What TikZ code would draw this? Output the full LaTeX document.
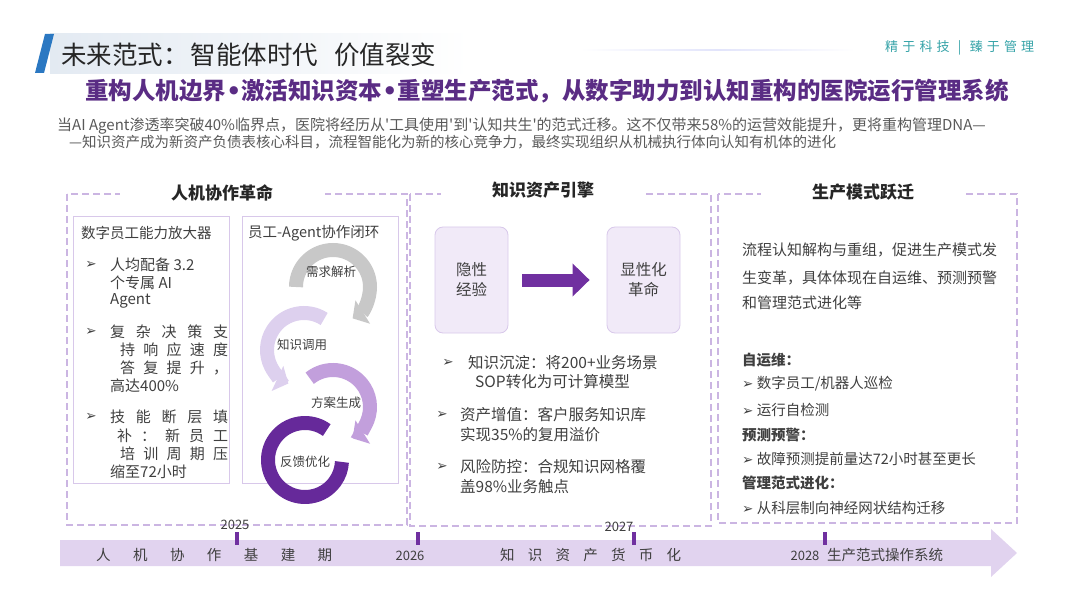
\documentclass[tikz,border=0pt]{standalone}
\usepackage{fontspec}
\setmainfont{Noto Sans CJK SC}[Ligatures=TeXOff]
\newfontfamily\symfont{DejaVu Sans}
\usetikzlibrary{arrows.meta}

\definecolor{headblue}{HTML}{2B78C2}
\definecolor{headbg}{HTML}{E3EAF2}
\definecolor{titlegray}{HTML}{262626}
\definecolor{subpurple}{HTML}{5A2C84}
\definecolor{motto}{HTML}{36A3A8}
\definecolor{introgray}{HTML}{595959}
\definecolor{txtgray}{HTML}{3F3F3F}
\definecolor{dashpurple}{HTML}{CBB5E2}
\definecolor{boxline}{HTML}{D8C8EA}
\definecolor{boxfill}{HTML}{F1EAF8}
\definecolor{deeppurple}{HTML}{7030A0}
\definecolor{bandpurple}{HTML}{E1D3EF}
\definecolor{ringgray}{HTML}{C8C8C8}
\definecolor{ringlight}{HTML}{DDD0EE}
\definecolor{ringmid}{HTML}{C29FDC}
\definecolor{ringdark}{HTML}{66299A}

\newcommand{\bul}{{\symfont\bfseries\fontsize{13.5}{13.5}\selectfont ➢}}
\newcommand{\dotsep}{{\symfont\bfseries •}}
\newcommand{\fsz}[1]{\fontsize{#1}{#1}\selectfont}

\begin{document}
\begin{tikzpicture}[x=1pt, y=1pt,
    txt/.style={anchor=west, inner sep=0pt, text=txtgray, font=\fsz{15}},
    bulnode/.style={inner sep=0pt, text=txtgray},
    panel/.style={draw=dashpurple, line width=1.1pt, dash pattern=on 7pt off 4pt},
    paneltitle/.style={fill=white, minimum width=205pt, inner ysep=3pt, text=titlegray, font=\fsz{17}\bfseries},
    innerbox/.style={draw=boxline, line width=0.8pt},
    kbox/.style={draw=boxline, fill=boxfill, line width=0.8pt, rounded corners=8pt, minimum width=73pt, minimum height=106pt, align=center, text=txtgray, font=\fontsize{15.5}{20}\selectfont},
    ring/.style={line width=14pt},
    ringtip/.style={-{Triangle[length=12pt,width=27pt]}},
    ringlabel/.style={inner sep=0pt, text=txtgray, font=\fsz{12.5}},
    fatarrow/.style={draw=deeppurple, line width=13pt, -{Triangle[length=17pt,width=32pt]}},
    year/.style={inner sep=0pt, text=txtgray, font=\fsz{13}},
    tick/.style={fill=deeppurple}]
    \useasboundingbox (0,0) rectangle (1080,-607);

    % --- header ---
    \shade[left color=headbg, right color=white] (50,-34) rectangle (470,-74);
    \fill[headblue] (45,-34) -- (54,-34) -- (44,-73) -- (35,-73) -- cycle;
    \node[anchor=west, inner sep=0pt, text=titlegray, font=\fsz{25.5}] (title) at (61,-55) {未来范式：\hspace{2pt}智能体时代\hspace{16pt}价值裂变};
    \shade[left color=white, right color=white, middle color=headbg!80!blue!40] (580,-49.5) rectangle (855,-51);
    \node[anchor=west, inner sep=0pt, text=motto, font=\fsz{13}] (motto) at (885,-48) {\makebox[149pt][s]{精 于 科 技 \ | \ 臻 于 管 理}};
    \node[inner sep=0pt, text=subpurple, font=\fsz{23.5}\bfseries] (sub) at (547,-91) {重构人机边界\dotsep 激活知识资本\dotsep 重塑生产范式，从数字助力到认知重构的医院运行管理系统};
    \node[anchor=west, inner sep=0pt, text=introgray, font=\fsz{15}] (intro1) at (57,-126) {当AI Agent渗透率突破40\%临界点，医院将经历从'工具使用'到'认知共生'的范式迁移。这不仅带来58\%的运营效能提升，更将重构管理DNA—};
    \node[anchor=west, inner sep=0pt, text=introgray, font=\fsz{14.5}] (intro2) at (69,-142) {—知识资产成为新资产负债表核心科目，流程智能化为新的核心竞争力，最终实现组织从机械执行体向认知有机体的进化};

    % --- panel 1: human-machine ---
    \draw[panel] (67,-194) rectangle (407,-525);
    \node[paneltitle] (p1title) at (222,-193) {人机协作革命};
    \draw[innerbox] (73,-216) rectangle (229,-483);
    \draw[innerbox] (242,-216) rectangle (398,-483);
    \node[txt, font=\fsz{14.5}] (amp) at (81,-233) {数字员工能力放大器};
    \node[bulnode] (b11) at (91,-265) {\bul};
    \node[txt] (l11) at (110,-265) {人均配备 3.2};
    \node[txt] (l12) at (110,-283) {个专属 AI};
    \node[txt] (l13) at (110,-301) {Agent};
    \node[bulnode] (b21) at (91,-332) {\bul};
    \node[txt] (l21) at (110,-332) {\makebox[118pt][s]{复 杂 决 策 支}};
    \node[txt] (l22) at (120,-350) {\makebox[108pt][s]{持 响 应 速 度}};
    \node[txt] (l23) at (120,-368) {\makebox[108pt][s]{答 复 提 升 ，}};
    \node[txt] (l24) at (110,-386) {高达400\%};
    \node[bulnode] (b31) at (91,-417) {\bul};
    \node[txt] (l31) at (110,-417) {\makebox[118pt][s]{技 能 断 层 填}};
    \node[txt] (l32) at (117,-436) {\makebox[111pt][s]{补 ： 新 员 工}};
    \node[txt] (l33) at (120,-454) {\makebox[108pt][s]{培 训 周 期 压}};
    \node[txt] (l34) at (110,-472) {缩至72小时};
    \node[txt, font=\fsz{14.5}] (loop) at (248,-233) {员工-Agent协作闭环};
    % cycle of four rings
    \coordinate (c1) at (333,-287);
    \coordinate (c2) at (304,-350);
    \coordinate (c3) at (333,-407);
    \coordinate (c4) at (305,-460);
    \draw[ring, ringdark] ([shift={(54:37)}]c4) arc[start angle=54, end angle=357, radius=37];
    \draw[ring, ringmid, ringtip] ([shift={(129:37)}]c3) arc[start angle=129, end angle=-58, radius=37];
    \draw[ring, ringlight, ringtip] ([shift={(57:37)}]c2) arc[start angle=57, end angle=245, radius=37];
    \draw[ring, ringgray, ringtip] ([shift={(180:37)}]c1) arc[start angle=180, end angle=-58, radius=37];
    \node[ringlabel] (n1) at (331,-272) {需求解析};
    \node[ringlabel] (n2) at (302,-345) {知识调用};
    \node[ringlabel] (n3) at (336,-403) {方案生成};
    \node[ringlabel] (n4) at (305,-462) {反馈优化};

    % --- panel 2: knowledge engine ---
    \draw[panel] (410,-194) rectangle (711,-526);
    \node[paneltitle] (p2title) at (543,-190) {知识资产引擎};
    \node[kbox] (tacit) at (471.5,-280) {隐性\\经验};
    \node[kbox] (expl) at (643.5,-280) {显性化\\革命};
    \draw[fatarrow] ([xshift=14pt]tacit.east) -- ([xshift=-17pt]expl.west);
    \node[bulnode] (k1) at (448,-363) {\bul};
    \node[txt, font=\fsz{15.5}] (k11) at (468,-363) {知识沉淀：将200+业务场景};
    \node[txt, font=\fsz{15.5}] (k12) at (475,-382) {SOP转化为可计算模型};
    \node[bulnode] (k2) at (442,-415) {\bul};
    \node[txt, font=\fsz{15.5}] (k21) at (460,-415) {资产增值：客户服务知识库};
    \node[txt, font=\fsz{15.5}] (k22) at (460,-435) {实现35\%的复用溢价};
    \node[bulnode] (k3) at (442,-467) {\bul};
    \node[txt, font=\fsz{15.5}] (k31) at (460,-467) {风险防控：合规知识网格覆};
    \node[txt, font=\fsz{15.5}] (k32) at (460,-487) {盖98\%业务触点};

    % --- panel 3: production mode ---
    \draw[panel] (718,-194) rectangle (1017,-523);
    \node[paneltitle] (p3title) at (863,-192) {生产模式跃迁};
    \node[txt] (m1) at (742,-250) {流程认知解构与重组，促进生产模式发};
    \node[txt] (m2) at (742,-278) {生变革，具体体现在自运维、预测预警};
    \node[txt] (m3) at (742,-303) {和管理范式进化等};
    \node[txt, font=\fsz{14.5}\bfseries] (h1) at (742,-360) {自运维：};
    \node[txt, font=\fsz{14.5}] (i1) at (742,-384) {\bul\ 数字员工/机器人巡检};
    \node[txt, font=\fsz{14.5}] (i2) at (742,-410) {\bul\ 运行自检测};
    \node[txt, font=\fsz{14.5}\bfseries] (h2) at (742,-435) {预测预警：};
    \node[txt, font=\fsz{14.5}] (i3) at (742,-459) {\bul\ 故障预测提前量达72小时甚至更长};
    \node[txt, font=\fsz{14.5}\bfseries] (h3) at (742,-483) {管理范式进化：};
    \node[txt, font=\fsz{14.5}] (i4) at (742,-508) {\bul\ 从科层制向神经网状结构迁移};

    % --- timeline ---
    \fill[bandpurple] (60,-540) -- (991,-540) -- (991,-529) -- (1017,-553) -- (991,-577) -- (991,-566) -- (60,-566) -- cycle;
    \foreach \x in {235,416,632,823} {
        \fill[tick] (\x,-532) rectangle ++(4,-13);
    }
    \node[year] (y25) at (235,-525) {2025};
    \node[year] (y26) at (410,-556) {2026};
    \node[year] (y27) at (619,-527) {2027};
    \node[year] (y28) at (805,-556) {2028};
    \node[txt, font=\fsz{14.5}] (s1) at (96,-555) {\makebox[236pt][s]{人 机 协 作 基 建 期}};
    \node[txt, font=\fsz{14.5}] (s2) at (500,-555) {\makebox[181pt][s]{知 识 资 产 货 币 化}};
    \node[txt, font=\fsz{14.5}] (s3) at (827,-555) {生产范式操作系统};
\end{tikzpicture}
\end{document}
